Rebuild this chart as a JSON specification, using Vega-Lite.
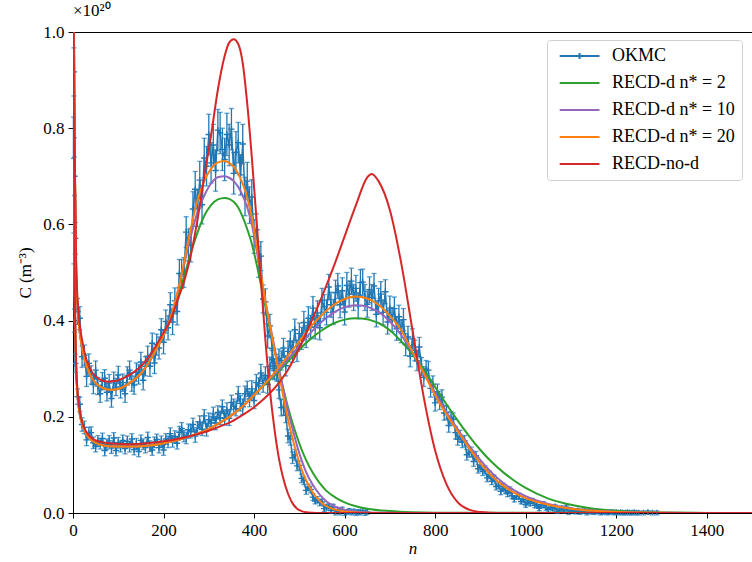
{
"$schema":"https://vega.github.io/schema/vega-lite/v6.json",
"width":679,"height":481,"autosize":"none",
"padding":{"left":73,"top":32,"right":0,"bottom":49},
"background":"white",
"title":{"text":"×10²⁰","anchor":"start","frame":"group","offset":3,"fontSize":17,"font":"Times New Roman, Liberation Serif, serif","fontWeight":"normal","color":"black"},
"config":{"font":"Times New Roman, Liberation Serif, serif","view":{"stroke":"black","strokeWidth":1},
"axis":{"labelFont":"Times New Roman, Liberation Serif, serif","titleFont":"Times New Roman, Liberation Serif, serif","labelFontSize":17,"titleFontSize":17,"labelColor":"black","titleColor":"black","domainColor":"black","tickColor":"black","tickSize":5,"grid":false,"titleFontWeight":"normal","labelPadding":4}},
"datasets":{
"okA":[{"n":2,"c":0.917,"e":0.05},{"n":3,"c":0.7,"e":0.04},{"n":5,"c":0.571,"e":0.033},{"n":10,"c":0.419,"e":0.027},{"n":15,"c":0.405,"e":0.024},{"n":20,"c":0.325,"e":0.022},{"n":25,"c":0.328,"e":0.021},{"n":30,"c":0.284,"e":0.021},{"n":35,"c":0.311,"e":0.02},{"n":40,"c":0.287,"e":0.019},{"n":45,"c":0.267,"e":0.019},{"n":50,"c":0.297,"e":0.019},{"n":55,"c":0.264,"e":0.018},{"n":60,"c":0.248,"e":0.018},{"n":65,"c":0.274,"e":0.018},{"n":70,"c":0.28,"e":0.018},{"n":75,"c":0.251,"e":0.018},{"n":80,"c":0.27,"e":0.018},{"n":85,"c":0.238,"e":0.018},{"n":90,"c":0.275,"e":0.018},{"n":95,"c":0.262,"e":0.018},{"n":100,"c":0.287,"e":0.018},{"n":105,"c":0.257,"e":0.018},{"n":110,"c":0.271,"e":0.018},{"n":115,"c":0.248,"e":0.018},{"n":120,"c":0.285,"e":0.019},{"n":125,"c":0.297,"e":0.019},{"n":130,"c":0.272,"e":0.019},{"n":135,"c":0.266,"e":0.019},{"n":140,"c":0.293,"e":0.019},{"n":145,"c":0.288,"e":0.02},{"n":150,"c":0.314,"e":0.02},{"n":155,"c":0.276,"e":0.02},{"n":160,"c":0.305,"e":0.02},{"n":165,"c":0.326,"e":0.021},{"n":170,"c":0.305,"e":0.021},{"n":175,"c":0.353,"e":0.021},{"n":180,"c":0.312,"e":0.022},{"n":185,"c":0.35,"e":0.022},{"n":190,"c":0.343,"e":0.023},{"n":195,"c":0.381,"e":0.023},{"n":200,"c":0.355,"e":0.024},{"n":205,"c":0.398,"e":0.024},{"n":210,"c":0.385,"e":0.025},{"n":215,"c":0.433,"e":0.025},{"n":220,"c":0.397,"e":0.026},{"n":225,"c":0.441,"e":0.027},{"n":230,"c":0.419,"e":0.028},{"n":235,"c":0.498,"e":0.029},{"n":240,"c":0.497,"e":0.03},{"n":245,"c":0.5,"e":0.031},{"n":250,"c":0.584,"e":0.032},{"n":255,"c":0.557,"e":0.033},{"n":260,"c":0.557,"e":0.035},{"n":265,"c":0.632,"e":0.036},{"n":270,"c":0.673,"e":0.037},{"n":275,"c":0.633,"e":0.038},{"n":280,"c":0.692,"e":0.039},{"n":285,"c":0.641,"e":0.04},{"n":290,"c":0.738,"e":0.041},{"n":295,"c":0.721,"e":0.041},{"n":300,"c":0.787,"e":0.042},{"n":305,"c":0.728,"e":0.042},{"n":310,"c":0.765,"e":0.043},{"n":315,"c":0.712,"e":0.043},{"n":320,"c":0.796,"e":0.043},{"n":325,"c":0.79,"e":0.043},{"n":330,"c":0.756,"e":0.044},{"n":335,"c":0.735,"e":0.044},{"n":340,"c":0.787,"e":0.044},{"n":345,"c":0.765,"e":0.043},{"n":350,"c":0.798,"e":0.043},{"n":355,"c":0.706,"e":0.043},{"n":360,"c":0.75,"e":0.043},{"n":365,"c":0.77,"e":0.042},{"n":370,"c":0.703,"e":0.042},{"n":375,"c":0.767,"e":0.041},{"n":380,"c":0.658,"e":0.04},{"n":385,"c":0.69,"e":0.039},{"n":390,"c":0.64,"e":0.038},{"n":395,"c":0.657,"e":0.036},{"n":400,"c":0.575,"e":0.035},{"n":405,"c":0.589,"e":0.033},{"n":410,"c":0.522,"e":0.032},{"n":415,"c":0.534,"e":0.03},{"n":420,"c":0.445,"e":0.029},{"n":425,"c":0.439,"e":0.027},{"n":430,"c":0.368,"e":0.025},{"n":435,"c":0.389,"e":0.024},{"n":440,"c":0.342,"e":0.022},{"n":445,"c":0.3,"e":0.021},{"n":450,"c":0.311,"e":0.019},{"n":455,"c":0.256,"e":0.018},{"n":460,"c":0.219,"e":0.017},{"n":465,"c":0.22,"e":0.016},{"n":470,"c":0.203,"e":0.015},{"n":475,"c":0.16,"e":0.014},{"n":480,"c":0.154,"e":0.013},{"n":485,"c":0.115,"e":0.012},{"n":490,"c":0.121,"e":0.011},{"n":495,"c":0.098,"e":0.01},{"n":500,"c":0.099,"e":0.009},{"n":505,"c":0.072,"e":0.009},{"n":510,"c":0.067,"e":0.008},{"n":515,"c":0.047,"e":0.008},{"n":520,"c":0.053,"e":0.007},{"n":525,"c":0.049,"e":0.007},{"n":530,"c":0.033,"e":0.007},{"n":535,"c":0.025,"e":0.006},{"n":540,"c":0.028,"e":0.006},{"n":545,"c":0.021,"e":0.006},{"n":550,"c":0.023,"e":0.006},{"n":555,"c":0.009,"e":0.006},{"n":560,"c":0.012,"e":0.006},{"n":565,"c":0.014,"e":0.005},{"n":570,"c":0.005,"e":0.005},{"n":575,"c":0.013,"e":0.005},{"n":580,"c":0.001,"e":0.005},{"n":585,"c":0.006,"e":0.005},{"n":590,"c":0.001,"e":0.005},{"n":595,"c":0.007,"e":0.005},{"n":600,"c":0,"e":0.005},{"n":605,"c":0.002,"e":0.005},{"n":610,"c":0.004,"e":0.005},{"n":615,"c":0.001,"e":0.005},{"n":620,"c":0.003,"e":0.005},{"n":625,"c":0,"e":0.005},{"n":630,"c":0.002,"e":0.005},{"n":635,"c":0.001,"e":0.005},{"n":640,"c":0.005,"e":0.005},{"n":645,"c":0,"e":0.005},{"n":650,"c":0.002,"e":0.005}],
"okB":[{"n":1,"c":0.78,"e":0.043},{"n":2,"c":0.55,"e":0.032},{"n":3,"c":0.4,"e":0.024},{"n":5,"c":0.311,"e":0.019},{"n":10,"c":0.242,"e":0.016},{"n":15,"c":0.226,"e":0.015},{"n":20,"c":0.184,"e":0.014},{"n":25,"c":0.178,"e":0.013},{"n":30,"c":0.152,"e":0.012},{"n":35,"c":0.166,"e":0.012},{"n":40,"c":0.167,"e":0.012},{"n":45,"c":0.146,"e":0.012},{"n":50,"c":0.138,"e":0.011},{"n":55,"c":0.15,"e":0.011},{"n":60,"c":0.144,"e":0.011},{"n":65,"c":0.155,"e":0.011},{"n":70,"c":0.13,"e":0.011},{"n":75,"c":0.143,"e":0.011},{"n":80,"c":0.15,"e":0.011},{"n":85,"c":0.135,"e":0.011},{"n":90,"c":0.156,"e":0.011},{"n":95,"c":0.13,"e":0.011},{"n":100,"c":0.146,"e":0.011},{"n":105,"c":0.138,"e":0.011},{"n":110,"c":0.151,"e":0.011},{"n":115,"c":0.134,"e":0.011},{"n":120,"c":0.149,"e":0.011},{"n":125,"c":0.138,"e":0.011},{"n":130,"c":0.154,"e":0.011},{"n":135,"c":0.132,"e":0.011},{"n":140,"c":0.144,"e":0.011},{"n":145,"c":0.128,"e":0.011},{"n":150,"c":0.151,"e":0.011},{"n":155,"c":0.143,"e":0.011},{"n":160,"c":0.136,"e":0.011},{"n":165,"c":0.157,"e":0.011},{"n":170,"c":0.139,"e":0.011},{"n":175,"c":0.131,"e":0.011},{"n":180,"c":0.147,"e":0.011},{"n":185,"c":0.153,"e":0.011},{"n":190,"c":0.136,"e":0.011},{"n":195,"c":0.149,"e":0.011},{"n":200,"c":0.131,"e":0.011},{"n":205,"c":0.154,"e":0.011},{"n":210,"c":0.148,"e":0.012},{"n":215,"c":0.165,"e":0.012},{"n":220,"c":0.149,"e":0.012},{"n":225,"c":0.159,"e":0.012},{"n":230,"c":0.145,"e":0.012},{"n":235,"c":0.168,"e":0.012},{"n":240,"c":0.176,"e":0.012},{"n":245,"c":0.16,"e":0.012},{"n":250,"c":0.156,"e":0.012},{"n":255,"c":0.173,"e":0.012},{"n":260,"c":0.169,"e":0.013},{"n":265,"c":0.184,"e":0.013},{"n":270,"c":0.16,"e":0.013},{"n":275,"c":0.177,"e":0.013},{"n":280,"c":0.189,"e":0.013},{"n":285,"c":0.174,"e":0.013},{"n":290,"c":0.202,"e":0.013},{"n":295,"c":0.173,"e":0.013},{"n":300,"c":0.194,"e":0.014},{"n":305,"c":0.187,"e":0.014},{"n":310,"c":0.206,"e":0.014},{"n":315,"c":0.187,"e":0.014},{"n":320,"c":0.209,"e":0.014},{"n":325,"c":0.198,"e":0.014},{"n":330,"c":0.221,"e":0.014},{"n":335,"c":0.197,"e":0.014},{"n":340,"c":0.214,"e":0.015},{"n":345,"c":0.197,"e":0.015},{"n":350,"c":0.23,"e":0.015},{"n":355,"c":0.222,"e":0.015},{"n":360,"c":0.217,"e":0.015},{"n":365,"c":0.248,"e":0.015},{"n":370,"c":0.228,"e":0.016},{"n":375,"c":0.221,"e":0.016},{"n":380,"c":0.248,"e":0.016},{"n":385,"c":0.258,"e":0.016},{"n":390,"c":0.237,"e":0.016},{"n":395,"c":0.258,"e":0.017},{"n":400,"c":0.234,"e":0.017},{"n":405,"c":0.271,"e":0.017},{"n":410,"c":0.264,"e":0.017},{"n":415,"c":0.291,"e":0.018},{"n":420,"c":0.269,"e":0.018},{"n":425,"c":0.286,"e":0.018},{"n":430,"c":0.267,"e":0.018},{"n":435,"c":0.305,"e":0.019},{"n":440,"c":0.319,"e":0.019},{"n":445,"c":0.296,"e":0.019},{"n":450,"c":0.293,"e":0.019},{"n":455,"c":0.321,"e":0.02},{"n":460,"c":0.317,"e":0.02},{"n":465,"c":0.343,"e":0.02},{"n":470,"c":0.306,"e":0.021},{"n":475,"c":0.336,"e":0.021},{"n":480,"c":0.357,"e":0.021},{"n":485,"c":0.334,"e":0.021},{"n":490,"c":0.381,"e":0.022},{"n":495,"c":0.337,"e":0.022},{"n":500,"c":0.373,"e":0.022},{"n":505,"c":0.363,"e":0.023},{"n":510,"c":0.396,"e":0.023},{"n":515,"c":0.367,"e":0.023},{"n":520,"c":0.405,"e":0.024},{"n":525,"c":0.387,"e":0.024},{"n":530,"c":0.426,"e":0.024},{"n":535,"c":0.386,"e":0.024},{"n":540,"c":0.416,"e":0.025},{"n":545,"c":0.385,"e":0.025},{"n":550,"c":0.442,"e":0.025},{"n":555,"c":0.429,"e":0.025},{"n":560,"c":0.417,"e":0.026},{"n":565,"c":0.47,"e":0.026},{"n":570,"c":0.433,"e":0.026},{"n":575,"c":0.418,"e":0.026},{"n":580,"c":0.458,"e":0.026},{"n":585,"c":0.472,"e":0.026},{"n":590,"c":0.433,"e":0.027},{"n":595,"c":0.462,"e":0.027},{"n":600,"c":0.418,"e":0.027},{"n":605,"c":0.473,"e":0.027},{"n":610,"c":0.455,"e":0.027},{"n":615,"c":0.482,"e":0.027},{"n":620,"c":0.448,"e":0.027},{"n":625,"c":0.467,"e":0.027},{"n":630,"c":0.431,"e":0.027},{"n":635,"c":0.479,"e":0.027},{"n":640,"c":0.48,"e":0.027},{"n":645,"c":0.448,"e":0.027},{"n":650,"c":0.434,"e":0.027},{"n":655,"c":0.464,"e":0.027},{"n":660,"c":0.448,"e":0.027},{"n":665,"c":0.472,"e":0.026},{"n":670,"c":0.413,"e":0.026},{"n":675,"c":0.441,"e":0.026},{"n":680,"c":0.455,"e":0.026},{"n":685,"c":0.417,"e":0.026},{"n":690,"c":0.46,"e":0.025},{"n":695,"c":0.397,"e":0.025},{"n":700,"c":0.426,"e":0.025},{"n":705,"c":0.402,"e":0.025},{"n":710,"c":0.425,"e":0.024},{"n":715,"c":0.383,"e":0.024},{"n":720,"c":0.408,"e":0.024},{"n":725,"c":0.377,"e":0.023},{"n":730,"c":0.402,"e":0.023},{"n":735,"c":0.35,"e":0.023},{"n":740,"c":0.366,"e":0.022},{"n":745,"c":0.326,"e":0.022},{"n":750,"c":0.362,"e":0.021},{"n":755,"c":0.338,"e":0.021},{"n":760,"c":0.316,"e":0.02},{"n":765,"c":0.345,"e":0.02},{"n":770,"c":0.304,"e":0.019},{"n":775,"c":0.282,"e":0.019},{"n":780,"c":0.299,"e":0.018},{"n":785,"c":0.297,"e":0.018},{"n":790,"c":0.259,"e":0.018},{"n":795,"c":0.268,"e":0.017},{"n":800,"c":0.229,"e":0.017},{"n":805,"c":0.252,"e":0.016},{"n":810,"c":0.231,"e":0.016},{"n":815,"c":0.241,"e":0.015},{"n":820,"c":0.208,"e":0.015},{"n":825,"c":0.209,"e":0.014},{"n":830,"c":0.182,"e":0.014},{"n":835,"c":0.198,"e":0.013},{"n":840,"c":0.195,"e":0.013},{"n":845,"c":0.167,"e":0.013},{"n":850,"c":0.153,"e":0.012},{"n":855,"c":0.16,"e":0.012},{"n":860,"c":0.147,"e":0.011},{"n":865,"c":0.15,"e":0.011},{"n":870,"c":0.121,"e":0.011},{"n":875,"c":0.126,"e":0.01},{"n":880,"c":0.127,"e":0.01},{"n":885,"c":0.107,"e":0.01},{"n":890,"c":0.119,"e":0.009},{"n":895,"c":0.092,"e":0.009},{"n":900,"c":0.098,"e":0.009},{"n":905,"c":0.086,"e":0.008},{"n":910,"c":0.09,"e":0.008},{"n":915,"c":0.073,"e":0.008},{"n":920,"c":0.079,"e":0.008},{"n":925,"c":0.066,"e":0.007},{"n":930,"c":0.072,"e":0.007},{"n":935,"c":0.055,"e":0.007},{"n":940,"c":0.058,"e":0.007},{"n":945,"c":0.045,"e":0.007},{"n":950,"c":0.055,"e":0.007},{"n":955,"c":0.047,"e":0.006},{"n":960,"c":0.04,"e":0.006},{"n":965,"c":0.048,"e":0.006},{"n":970,"c":0.036,"e":0.006},{"n":975,"c":0.029,"e":0.006},{"n":980,"c":0.035,"e":0.006},{"n":985,"c":0.035,"e":0.006},{"n":990,"c":0.024,"e":0.005},{"n":995,"c":0.028,"e":0.005},{"n":1000,"c":0.017,"e":0.005},{"n":1005,"c":0.025,"e":0.005},{"n":1010,"c":0.02,"e":0.005},{"n":1015,"c":0.025,"e":0.005},{"n":1020,"c":0.016,"e":0.005},{"n":1025,"c":0.017,"e":0.005},{"n":1030,"c":0.01,"e":0.005},{"n":1035,"c":0.017,"e":0.005},{"n":1040,"c":0.018,"e":0.005},{"n":1045,"c":0.011,"e":0.005},{"n":1050,"c":0.007,"e":0.005},{"n":1055,"c":0.012,"e":0.004},{"n":1060,"c":0.009,"e":0.004},{"n":1065,"c":0.013,"e":0.004},{"n":1070,"c":0.003,"e":0.004},{"n":1075,"c":0.008,"e":0.004},{"n":1080,"c":0.01,"e":0.004},{"n":1085,"c":0.004,"e":0.004},{"n":1090,"c":0.012,"e":0.004},{"n":1095,"c":0.001,"e":0.004},{"n":1100,"c":0.006,"e":0.004},{"n":1105,"c":0.004,"e":0.004},{"n":1110,"c":0.002,"e":0.004},{"n":1115,"c":0.005,"e":0.004},{"n":1120,"c":0.001,"e":0.004},{"n":1125,"c":0.003,"e":0.004},{"n":1130,"c":0.004,"e":0.004},{"n":1135,"c":0,"e":0.004},{"n":1140,"c":0.002,"e":0.004},{"n":1145,"c":0.003,"e":0.004},{"n":1150,"c":0.001,"e":0.004},{"n":1155,"c":0.002,"e":0.004},{"n":1160,"c":0.003,"e":0.004},{"n":1165,"c":0,"e":0.004},{"n":1170,"c":0.001,"e":0.004},{"n":1175,"c":0.002,"e":0.004},{"n":1180,"c":0,"e":0.004},{"n":1185,"c":0.001,"e":0.004},{"n":1190,"c":0.002,"e":0.004},{"n":1195,"c":0,"e":0.004},{"n":1200,"c":0.001,"e":0.004},{"n":1205,"c":0,"e":0.004},{"n":1210,"c":0.001,"e":0.004},{"n":1215,"c":0,"e":0.004},{"n":1220,"c":0,"e":0.004},{"n":1225,"c":0.001,"e":0.004},{"n":1230,"c":0,"e":0.004},{"n":1235,"c":0,"e":0.004},{"n":1240,"c":0.001,"e":0.004},{"n":1245,"c":0,"e":0.004},{"n":1250,"c":0,"e":0.004},{"n":1260,"c":0,"e":0.004},{"n":1270,"c":0.001,"e":0.004},{"n":1280,"c":0,"e":0.004},{"n":1290,"c":0,"e":0.004}],
"crv":[
{"s":"A","n":1,"c2":1.6,"c3":1.6,"c4":1.6,"c5":1.6},
{"s":"A","n":2,"c2":1.0,"c3":1.0,"c4":1.0,"c5":1.05},
{"s":"A","n":4,"c2":0.72,"c3":0.72,"c4":0.72,"c5":0.74},
{"s":"A","n":7,"c2":0.5,"c3":0.5,"c4":0.5,"c5":0.52},
{"s":"A","n":10,"c2":0.43,"c3":0.43,"c4":0.43,"c5":0.445},
{"s":"A","n":15,"c2":0.375,"c3":0.375,"c4":0.375,"c5":0.39},
{"s":"A","n":20,"c2":0.345,"c3":0.345,"c4":0.345,"c5":0.36},
{"s":"A","n":30,"c2":0.305,"c3":0.305,"c4":0.305,"c5":0.318},
{"s":"A","n":40,"c2":0.283,"c3":0.283,"c4":0.283,"c5":0.296},
{"s":"A","n":50,"c2":0.27,"c3":0.27,"c4":0.27,"c5":0.284},
{"s":"A","n":65,"c2":0.26,"c3":0.26,"c4":0.26,"c5":0.275},
{"s":"A","n":80,"c2":0.256,"c3":0.256,"c4":0.256,"c5":0.273},
{"s":"A","n":100,"c2":0.258,"c3":0.258,"c4":0.258,"c5":0.276},
{"s":"A","n":125,"c2":0.27,"c3":0.27,"c4":0.27,"c5":0.287},
{"s":"A","n":150,"c2":0.29,"c3":0.29,"c4":0.29,"c5":0.305},
{"s":"A","n":175,"c2":0.325,"c3":0.325,"c4":0.325,"c5":0.335},
{"s":"A","n":200,"c2":0.37,"c3":0.37,"c4":0.37,"c5":0.375},
{"s":"A","n":215,"c2":0.4,"c3":0.405,"c4":0.405,"c5":0.4},
{"s":"A","n":230,"c2":0.443,"c3":0.455,"c4":0.455,"c5":0.44},
{"s":"A","n":245,"c2":0.49,"c3":0.515,"c4":0.52,"c5":0.48},
{"s":"A","n":260,"c2":0.54,"c3":0.575,"c4":0.59,"c5":0.535},
{"s":"A","n":275,"c2":0.583,"c3":0.625,"c4":0.65,"c5":0.61},
{"s":"A","n":290,"c2":0.618,"c3":0.66,"c4":0.69,"c5":0.7},
{"s":"A","n":305,"c2":0.64,"c3":0.685,"c4":0.716,"c5":0.785},
{"s":"A","n":320,"c2":0.652,"c3":0.698,"c4":0.729,"c5":0.88},
{"s":"A","n":335,"c2":0.655,"c3":0.7,"c4":0.732,"c5":0.95},
{"s":"A","n":345,"c2":0.653,"c3":0.697,"c4":0.728,"c5":0.978},
{"s":"A","n":355,"c2":0.647,"c3":0.69,"c4":0.72,"c5":0.985},
{"s":"A","n":365,"c2":0.635,"c3":0.678,"c4":0.705,"c5":0.975},
{"s":"A","n":375,"c2":0.615,"c3":0.66,"c4":0.684,"c5":0.935},
{"s":"A","n":385,"c2":0.59,"c3":0.635,"c4":0.655,"c5":0.85},
{"s":"A","n":395,"c2":0.56,"c3":0.6,"c4":0.615,"c5":0.74},
{"s":"A","n":405,"c2":0.52,"c3":0.55,"c4":0.56,"c5":0.615},
{"s":"A","n":415,"c2":0.475,"c3":0.495,"c4":0.5,"c5":0.485},
{"s":"A","n":425,"c2":0.43,"c3":0.44,"c4":0.44,"c5":0.36},
{"s":"A","n":435,"c2":0.385,"c3":0.393,"c4":0.39,"c5":0.255},
{"s":"A","n":445,"c2":0.34,"c3":0.345,"c4":0.34,"c5":0.175},
{"s":"A","n":455,"c2":0.297,"c3":0.3,"c4":0.29,"c5":0.113},
{"s":"A","n":465,"c2":0.257,"c3":0.255,"c4":0.24,"c5":0.07},
{"s":"A","n":475,"c2":0.22,"c3":0.213,"c4":0.195,"c5":0.04},
{"s":"A","n":485,"c2":0.187,"c3":0.175,"c4":0.155,"c5":0.02},
{"s":"A","n":495,"c2":0.158,"c3":0.14,"c4":0.12,"c5":0.009},
{"s":"A","n":505,"c2":0.132,"c3":0.11,"c4":0.09,"c5":0.004},
{"s":"A","n":515,"c2":0.11,"c3":0.085,"c4":0.068,"c5":0.0015},
{"s":"A","n":530,"c2":0.083,"c3":0.058,"c4":0.042,"c5":0.0004},
{"s":"A","n":545,"c2":0.062,"c3":0.038,"c4":0.025,"c5":0},
{"s":"A","n":560,"c2":0.046,"c3":0.024,"c4":0.014,"c5":0},
{"s":"A","n":580,"c2":0.032,"c3":0.013,"c4":0.007,"c5":0},
{"s":"A","n":600,"c2":0.022,"c3":0.007,"c4":0.003,"c5":0},
{"s":"A","n":625,"c2":0.014,"c3":0.003,"c4":0.0012,"c5":0},
{"s":"A","n":650,"c2":0.009,"c3":0.0013,"c4":0.0005,"c5":0},
{"s":"A","n":700,"c2":0.004,"c3":0.0003,"c4":0.0001,"c5":0},
{"s":"A","n":750,"c2":0.0015,"c3":0,"c4":0,"c5":0},
{"s":"A","n":800,"c2":0.0005,"c3":0,"c4":0,"c5":0},
{"s":"A","n":1500,"c2":0,"c3":0,"c4":0,"c5":0},
{"s":"B","n":1,"c2":1.2,"c3":1.2,"c4":1.2,"c5":1.3},
{"s":"B","n":2,"c2":0.75,"c3":0.75,"c4":0.75,"c5":0.8},
{"s":"B","n":4,"c2":0.45,"c3":0.45,"c4":0.45,"c5":0.47},
{"s":"B","n":7,"c2":0.3,"c3":0.3,"c4":0.3,"c5":0.31},
{"s":"B","n":10,"c2":0.245,"c3":0.245,"c4":0.245,"c5":0.255},
{"s":"B","n":15,"c2":0.205,"c3":0.205,"c4":0.205,"c5":0.212},
{"s":"B","n":20,"c2":0.185,"c3":0.185,"c4":0.185,"c5":0.19},
{"s":"B","n":30,"c2":0.163,"c3":0.163,"c4":0.163,"c5":0.168},
{"s":"B","n":40,"c2":0.152,"c3":0.152,"c4":0.152,"c5":0.157},
{"s":"B","n":50,"c2":0.146,"c3":0.146,"c4":0.146,"c5":0.151},
{"s":"B","n":65,"c2":0.141,"c3":0.141,"c4":0.141,"c5":0.147},
{"s":"B","n":80,"c2":0.139,"c3":0.139,"c4":0.139,"c5":0.145},
{"s":"B","n":100,"c2":0.138,"c3":0.138,"c4":0.138,"c5":0.144},
{"s":"B","n":125,"c2":0.138,"c3":0.138,"c4":0.138,"c5":0.143},
{"s":"B","n":150,"c2":0.139,"c3":0.139,"c4":0.139,"c5":0.144},
{"s":"B","n":175,"c2":0.141,"c3":0.141,"c4":0.141,"c5":0.146},
{"s":"B","n":200,"c2":0.145,"c3":0.145,"c4":0.145,"c5":0.149},
{"s":"B","n":225,"c2":0.15,"c3":0.15,"c4":0.15,"c5":0.153},
{"s":"B","n":250,"c2":0.157,"c3":0.157,"c4":0.157,"c5":0.158},
{"s":"B","n":275,"c2":0.165,"c3":0.165,"c4":0.165,"c5":0.164},
{"s":"B","n":300,"c2":0.175,"c3":0.175,"c4":0.175,"c5":0.171},
{"s":"B","n":325,"c2":0.188,"c3":0.188,"c4":0.188,"c5":0.18},
{"s":"B","n":350,"c2":0.203,"c3":0.203,"c4":0.203,"c5":0.19},
{"s":"B","n":375,"c2":0.222,"c3":0.222,"c4":0.222,"c5":0.204},
{"s":"B","n":400,"c2":0.245,"c3":0.245,"c4":0.245,"c5":0.22},
{"s":"B","n":425,"c2":0.268,"c3":0.27,"c4":0.27,"c5":0.24},
{"s":"B","n":450,"c2":0.29,"c3":0.293,"c4":0.297,"c5":0.265},
{"s":"B","n":475,"c2":0.315,"c3":0.32,"c4":0.327,"c5":0.298},
{"s":"B","n":500,"c2":0.34,"c3":0.348,"c4":0.357,"c5":0.343},
{"s":"B","n":525,"c2":0.362,"c3":0.375,"c4":0.387,"c5":0.395},
{"s":"B","n":550,"c2":0.38,"c3":0.398,"c4":0.412,"c5":0.45},
{"s":"B","n":575,"c2":0.394,"c3":0.416,"c4":0.432,"c5":0.51},
{"s":"B","n":600,"c2":0.402,"c3":0.428,"c4":0.445,"c5":0.575},
{"s":"B","n":625,"c2":0.405,"c3":0.432,"c4":0.45,"c5":0.64},
{"s":"B","n":650,"c2":0.403,"c3":0.429,"c4":0.446,"c5":0.698},
{"s":"B","n":660,"c2":0.4,"c3":0.425,"c4":0.442,"c5":0.705},
{"s":"B","n":675,"c2":0.395,"c3":0.418,"c4":0.433,"c5":0.69},
{"s":"B","n":700,"c2":0.38,"c3":0.398,"c4":0.41,"c5":0.63},
{"s":"B","n":725,"c2":0.357,"c3":0.37,"c4":0.38,"c5":0.52},
{"s":"B","n":750,"c2":0.33,"c3":0.333,"c4":0.335,"c5":0.38},
{"s":"B","n":775,"c2":0.298,"c3":0.292,"c4":0.29,"c5":0.24},
{"s":"B","n":800,"c2":0.262,"c3":0.25,"c4":0.245,"c5":0.13},
{"s":"B","n":825,"c2":0.226,"c3":0.21,"c4":0.205,"c5":0.06},
{"s":"B","n":850,"c2":0.192,"c3":0.174,"c4":0.17,"c5":0.022},
{"s":"B","n":875,"c2":0.16,"c3":0.14,"c4":0.135,"c5":0.007},
{"s":"B","n":900,"c2":0.131,"c3":0.11,"c4":0.103,"c5":0.002},
{"s":"B","n":925,"c2":0.106,"c3":0.084,"c4":0.077,"c5":0.0005},
{"s":"B","n":950,"c2":0.085,"c3":0.063,"c4":0.057,"c5":0},
{"s":"B","n":975,"c2":0.067,"c3":0.047,"c4":0.042,"c5":0},
{"s":"B","n":1000,"c2":0.052,"c3":0.035,"c4":0.031,"c5":0},
{"s":"B","n":1050,"c2":0.03,"c3":0.019,"c4":0.017,"c5":0},
{"s":"B","n":1100,"c2":0.017,"c3":0.01,"c4":0.009,"c5":0},
{"s":"B","n":1150,"c2":0.009,"c3":0.005,"c4":0.0045,"c5":0},
{"s":"B","n":1200,"c2":0.0045,"c3":0.0025,"c4":0.002,"c5":0},
{"s":"B","n":1250,"c2":0.002,"c3":0.001,"c4":0.001,"c5":0},
{"s":"B","n":1300,"c2":0.001,"c3":0.0004,"c4":0.0003,"c5":0},
{"s":"B","n":1400,"c2":0.0002,"c3":0,"c4":0,"c5":0},
{"s":"B","n":1500,"c2":0,"c3":0,"c4":0,"c5":0}]
},
"encoding":{
 "x":{"field":"n","type":"quantitative","scale":{"domain":[0,1500],"nice":false},"axis":{"values":[0,200,400,600,800,1000,1200,1400],"format":"d","title":"n","titleFontStyle":"italic","titlePadding":2,"labelFlush":false}},
 "y":{"field":"c","type":"quantitative","scale":{"domain":[0,1],"nice":false},"axis":{"values":[0,0.2,0.4,0.6,0.8,1.0],"format":".1f","title":"C (m⁻³)","titlePadding":8}}
},
"layer":[
 {"data":{"name":"okA"},"layer":[
   {"mark":{"type":"errorbar","ticks":{"size":5},"color":"#1f77b4","thickness":1.3},"encoding":{"yError":{"field":"e"}}},
   {"mark":{"type":"line","strokeWidth":1.5,"clip":true},"encoding":{"color":{"datum":"OKMC","type":"nominal"}}},
   {"mark":{"type":"point","shape":"M-1,0H1M0,-1V1","filled":false,"size":40,"strokeWidth":1.4,"color":"#1f77b4","opacity":1,"clip":true}}
 ]},
 {"data":{"name":"okB"},"layer":[
   {"mark":{"type":"errorbar","ticks":{"size":5},"color":"#1f77b4","thickness":1.3},"encoding":{"yError":{"field":"e"}}},
   {"mark":{"type":"line","strokeWidth":1.5,"clip":true},"encoding":{"color":{"datum":"OKMC","type":"nominal"}}},
   {"mark":{"type":"point","shape":"M-1,0H1M0,-1V1","filled":false,"size":40,"strokeWidth":1.4,"color":"#1f77b4","opacity":1,"clip":true}}
 ]},
 {"data":{"name":"crv"},
  "transform":[{"fold":["c2","c3","c4","c5"],"as":["k","c"]}],
  "mark":{"type":"line","strokeWidth":2,"interpolate":"monotone","clip":true},
  "encoding":{
   "detail":{"field":"s"},
   "color":{"field":"k","type":"nominal",
     "scale":{"domain":["OKMC","c2","c3","c4","c5"],"range":["#1f77b4","#2ca02c","#9467bd","#ff7f0e","#d62728"]},
     "legend":{"orient":"none","legendX":474,"legendY":8,"title":null,"padding":7,"strokeColor":"#d0d0d0","fillColor":"white","cornerRadius":3,
       "labelFont":"Times New Roman, Liberation Serif, serif","labelFontSize":18,"labelColor":"black","labelOffset":40,"rowPadding":9,
       "symbolSize":44,"symbolStrokeWidth":2,"symbolType":"M-1,0H11",
       "labelExpr":"datum.label == 'c2' ? 'RECD-d n* = 2' : datum.label == 'c3' ? 'RECD-d n* = 10' : datum.label == 'c4' ? 'RECD-d n* = 20' : datum.label == 'c5' ? 'RECD-no-d' : datum.label",
       "encode":{"symbols":{"update":{"shape":{"signal":"datum.value == 'OKMC' ? 'M-1,0H11M5,-0.9V0.9' : 'M-1,0H11'"}}}}}}
  }}
]
}
